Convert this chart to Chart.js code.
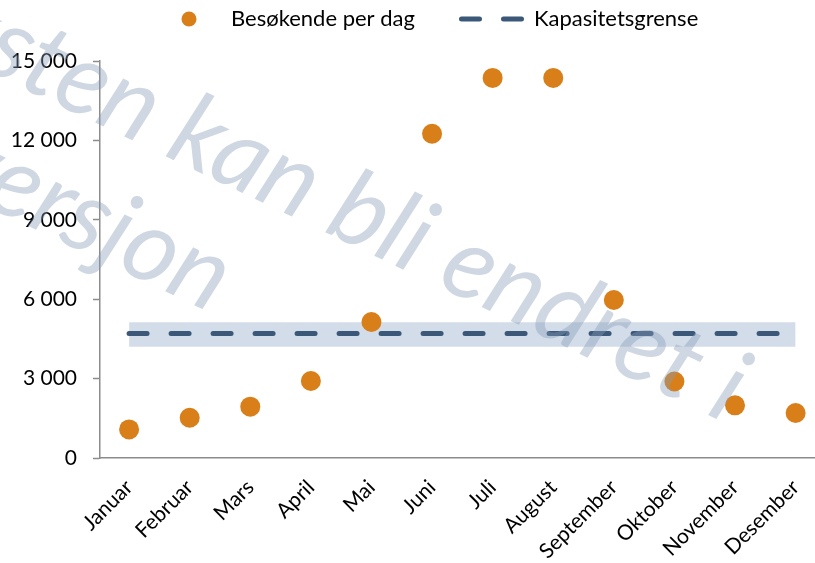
<!DOCTYPE html>
<html><head><meta charset="utf-8">
<script src="https://cdn.jsdelivr.net/npm/chart.js@4/dist/chart.umd.min.js"></script>
<style>html,body{margin:0;padding:0;background:#fff;overflow:hidden;}</style>
</head><body>
<canvas id="c" width="815" height="563"></canvas>
<script>
const months = ['Januar','Februar','Mars','April','Mai','Juni','Juli','August','September','Oktober','November','Desember'];
const visitors = [1080, 1520, 1940, 2910, 5140, 12250, 14360, 14360, 5970, 2890, 1990, 1700];
const capacity = 4700;
const capacityBandLow = 4200;
const capacityBandHigh = 5130;
const yTicks = [0, 3000, 6000, 9000, 12000, 15000];
const seriesLabels = ['Besøkende per dag', 'Kapasitetsgrense'];
const watermarkLines = ['Teksten kan bli endret i', 'endelig versjon'];

const ORANGE = '#d97f19';
const NAVY = '#3b5878';
const BAND = '#d3dde9';
const AXIS = '#8c8c8c';
const FONT = 'Lato, "Open Sans", sans-serif';

const lastIdx = months.length - 1;
const flat = v => [{x: 0, y: v}, {x: lastIdx, y: v}];
const fmt = v => String(v).replace(/\B(?=(\d{3})+(?!\d))/g, ' ');

const legendPlugin = {
  id: 'customLegend',
  afterDraw(chart) {
    const ctx = chart.ctx;
    const ds = chart.data.datasets;
    ctx.save();
    const cy = 19;
    ctx.fillStyle = ds[0].backgroundColor;
    ctx.beginPath(); ctx.arc(189, cy, 7.5, 0, Math.PI * 2); ctx.fill();
    ctx.font = '22px ' + FONT;
    ctx.fillStyle = '#000';
    ctx.textBaseline = 'middle';
    ctx.textAlign = 'left';
    ctx.fillText(ds[0].label, 231, cy);
    ctx.strokeStyle = ds[1].borderColor;
    ctx.lineWidth = ds[1].borderWidth;
    ctx.lineCap = 'round';
    ctx.setLineDash(ds[1].borderDash);
    ctx.beginPath(); ctx.moveTo(461.5, cy); ctx.lineTo(521.5, cy); ctx.stroke();
    ctx.setLineDash([]);
    ctx.fillText(ds[1].label, 534, cy);
    ctx.restore();
  }
};

const watermarkPlugin = {
  id: 'watermark',
  afterDraw(chart) {
    const ctx = chart.ctx;
    ctx.save();
    ctx.translate(163, 155);
    ctx.rotate(25.5 * Math.PI / 180);
    let fs = 100;
    ctx.font = 'italic 400 ' + fs + 'px ' + FONT;
    const w = ctx.measureText('kan bli endret i').width;
    fs = fs * 624 / w;
    ctx.font = 'italic 400 ' + fs.toFixed(2) + 'px ' + FONT;
    ctx.fillStyle = 'rgba(135,155,182,0.4)';
    ctx.textAlign = 'right';
    ctx.textBaseline = 'alphabetic';
    ctx.fillText(watermarkLines[0], 624, 0);
    ctx.fillText(watermarkLines[1], 112, 122);
    ctx.restore();
  }
};

new Chart(document.getElementById('c'), {
  type: 'line',
  data: {
    datasets: [
      {
        label: seriesLabels[0],
        data: visitors.map((v, i) => ({x: i, y: v})),
        showLine: false,
        pointRadius: 10,
        pointHoverRadius: 10,
        pointBorderWidth: 0,
        backgroundColor: ORANGE,
        borderColor: ORANGE
      },
      {
        label: seriesLabels[1],
        data: flat(capacity),
        borderColor: NAVY,
        borderWidth: 5,
        borderDash: [18, 24],
        borderCapStyle: 'round',
        pointRadius: 0,
        fill: false
      },
      {
        label: '',
        data: flat(capacityBandHigh),
        borderWidth: 0,
        pointRadius: 0,
        backgroundColor: BAND,
        fill: '+1'
      },
      {
        label: '',
        data: flat(capacityBandLow),
        borderWidth: 0,
        pointRadius: 0,
        fill: false
      }
    ]
  },
  options: {
    responsive: false,
    animation: false,
    devicePixelRatio: 1,
    layout: {autoPadding: false, padding: {top: 61, right: 0, left: 0, bottom: 0}},
    plugins: {legend: {display: false}, tooltip: {enabled: false}},
    scales: {
      x: {
        type: 'linear',
        min: -0.48,
        max: 11.32,
        afterBuildTicks: s => { s.ticks = months.map((m, i) => ({value: i})); },
        afterFit: s => { s.height = 105; s.paddingRight = 0; s.paddingLeft = 0; },
        grid: {display: false},
        border: {display: true, color: AXIS, width: 1.5},
        ticks: {
          autoSkip: false,
          minRotation: 45,
          maxRotation: 45,
          padding: 9,
          color: '#000',
          font: {family: FONT, size: 21},
          callback: v => months[v]
        }
      },
      y: {
        type: 'linear',
        min: 0,
        max: 15000,
        afterBuildTicks: s => { s.ticks = yTicks.map(v => ({value: v})); },
        afterFit: s => { s.width = 100; },
        grid: {display: true, drawOnChartArea: false, drawTicks: true, tickLength: 7, tickColor: AXIS, tickWidth: 1.5, color: AXIS},
        border: {display: true, color: AXIS, width: 1.5},
        ticks: {
          padding: 16,
          color: '#000',
          font: {family: FONT, size: 21},
          callback: v => fmt(v)
        }
      }
    }
  },
  plugins: [legendPlugin, watermarkPlugin]
});
</script>
</body></html>
